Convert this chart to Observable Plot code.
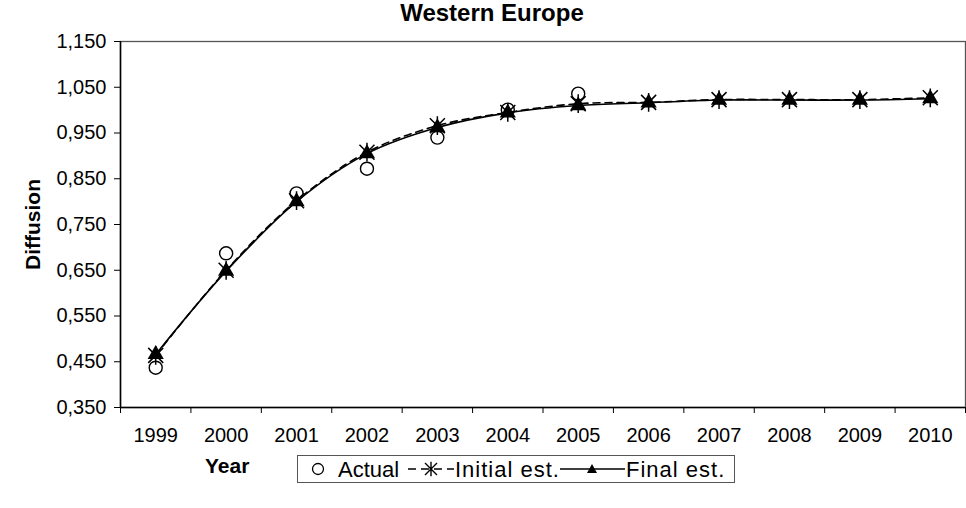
<!DOCTYPE html>
<html><head><meta charset="utf-8">
<script src="https://cdn.jsdelivr.net/npm/d3@7"></script>
<script src="https://cdn.jsdelivr.net/npm/@observablehq/plot@0.6"></script>
<style>
html,body{margin:0;padding:0;background:#fff;}
#wrap{position:relative;width:966px;height:508px;font-family:"Liberation Sans",Arial,sans-serif;color:#000;overflow:hidden;background:#fff;}
#title{position:absolute;left:0;top:0;width:966px;text-align:center;font-weight:bold;font-size:24px;line-height:26px;padding-left:18px;box-sizing:border-box;z-index:2;}
#chart{position:absolute;left:0;top:14px;z-index:1;}
#xlabel{position:absolute;left:205px;top:454px;font-weight:bold;font-size:21px;line-height:24px;}
#legend{position:absolute;left:297px;top:455px;width:438px;height:28px;border:1px solid #555;box-sizing:border-box;}
</style></head><body>
<div id="wrap">
<div id="title">Western Europe</div>
<div id="chart"></div>
<div id="xlabel">Year</div>
<div id="legend"></div>
</div>
<script>
const years = [1999,2000,2001,2002,2003,2004,2005,2006,2007,2008,2009,2010];
const actualYears = [1999,2000,2001,2002,2003,2004,2005];
const actual = [0.437,0.687,0.818,0.872,0.940,1.001,1.036];
const initialEst = [0.464,0.650,0.802,0.908,0.966,0.995,1.014,1.017,1.023,1.023,1.023,1.027];
const finalEst = [0.466,0.648,0.800,0.905,0.962,0.994,1.010,1.016,1.022,1.022,1.022,1.025];
const yTicks = [0.35,0.45,0.55,0.65,0.75,0.85,0.95,1.05,1.15];
const yTickLabels = ["0,350","0,450","0,550","0,650","0,750","0,850","0,950","1,050","1,150"];
const seriesNames = ["Actual","Initial est.","Final est."];

const actualData = actualYears.map((y,i)=>({year:y, value:actual[i]}));
const initData = years.map((y,i)=>({year:y, value:initialEst[i]}));
const finalData = years.map((y,i)=>({year:y, value:finalEst[i]}));
const boundaries = [years[0]-0.5, ...years.map(y=>y+0.5)];

const starSymbol = {
  draw(ctx, size){
    const r = Math.sqrt(size/Math.PI);
    ctx.moveTo(-r,-r); ctx.lineTo(r,r);
    ctx.moveTo(-r,r); ctx.lineTo(r,-r);
    ctx.moveTo(0,-r*1.25); ctx.lineTo(0,r*1.25);
  }
};

const chart = Plot.plot({
  width: 966,
  height: 430,
  marginLeft: 120,
  marginRight: 1,
  marginTop: 27,
  marginBottom: 37,
  style: {fontFamily: '"Liberation Sans", Arial, sans-serif', color: "#000", background: "transparent", overflow: "visible"},
  x: {type: "linear", domain: [boundaries[0], boundaries[boundaries.length-1]]},
  y: {type: "linear", domain: [0.35, 1.15]},
  marks: [
    Plot.frame({stroke: "#555", strokeWidth: 1.3}),
    Plot.ruleY([0.35], {stroke: "#000", strokeWidth: 1.5}),
    Plot.ruleX([boundaries[0]], {stroke: "#000", strokeWidth: 1.5}),
    Plot.axisX(boundaries, {tickSize: 6, tickFormat: () => "", label: null, stroke: "#000"}),
    Plot.axisX(years, {tickSize: 0, tickPadding: 20, tickFormat: d => String(d), fontSize: 20, label: null}),
    Plot.axisY(yTicks, {tickSize: 6, tickPadding: 8, fontSize: 20, label: null, stroke: "#000",
      tickFormat: d => yTickLabels[yTicks.findIndex(t => Math.abs(t - d) < 1e-9)]}),
    Plot.text(["Diffusion"], {frameAnchor: "left", dx: -87, rotate: -90, textAnchor: "middle", fontWeight: "bold", fontSize: 21}),
    Plot.line(initData, {x: "year", y: "value", stroke: "#000", strokeWidth: 1.6, strokeDasharray: "7,5", curve: "catmull-rom"}),
    Plot.line(finalData, {x: "year", y: "value", stroke: "#000", strokeWidth: 1.6, curve: "catmull-rom"}),
    Plot.dot(initData, {x: "year", y: "value", symbol: starSymbol, r: 7.5, stroke: "#000", strokeWidth: 1.5, fill: "none"}),
    Plot.dot(finalData, {x: "year", y: "value", symbol: "triangle", r: 6, fill: "#000", stroke: "none"}),
    Plot.dot(actualData, {x: "year", y: "value", symbol: "circle", r: 6.5, stroke: "#000", strokeWidth: 1.4, fill: "none"})
  ]
});
document.getElementById("chart").appendChild(chart);

// legend
const lg = d3.select("#legend").append("svg").attr("width", 436).attr("height", 26)
  .style("position","absolute").style("left","0").style("top","0");
const ly = 13;
lg.append("circle").attr("cx", 20).attr("cy", ly).attr("r", 5.5).attr("fill","none").attr("stroke","#000").attr("stroke-width",1.3);
lg.append("text").attr("x", 40).attr("y", ly).attr("dy","0.36em").attr("font-size",22).text(seriesNames[0]);
lg.append("line").attr("x1",110).attr("x2",156).attr("y1",ly).attr("y2",ly).attr("stroke","#000").attr("stroke-width",1.5).attr("stroke-dasharray","8,5");
const s = 6;
const cxs = 133;
lg.append("path").attr("d",`M${cxs-s},${ly-s}L${cxs+s},${ly+s}M${cxs-s},${ly+s}L${cxs+s},${ly-s}M${cxs},${ly-s*1.2}L${cxs},${ly+s*1.2}`).attr("stroke","#000").attr("stroke-width",1.4).attr("fill","none");
lg.append("text").attr("x", 157).attr("y", ly).attr("dy","0.36em").attr("font-size",22).attr("letter-spacing","1").text(seriesNames[1]);
lg.append("line").attr("x1",262).attr("x2",327).attr("y1",ly).attr("y2",ly).attr("stroke","#000").attr("stroke-width",1.5);
lg.append("path").attr("d",`M294,${ly-5}L299,${ly+4}L289,${ly+4}Z`).attr("fill","#000");
lg.append("text").attr("x", 328).attr("y", ly).attr("dy","0.36em").attr("font-size",22).attr("letter-spacing","1").text(seriesNames[2]);
</script>
</body></html>
